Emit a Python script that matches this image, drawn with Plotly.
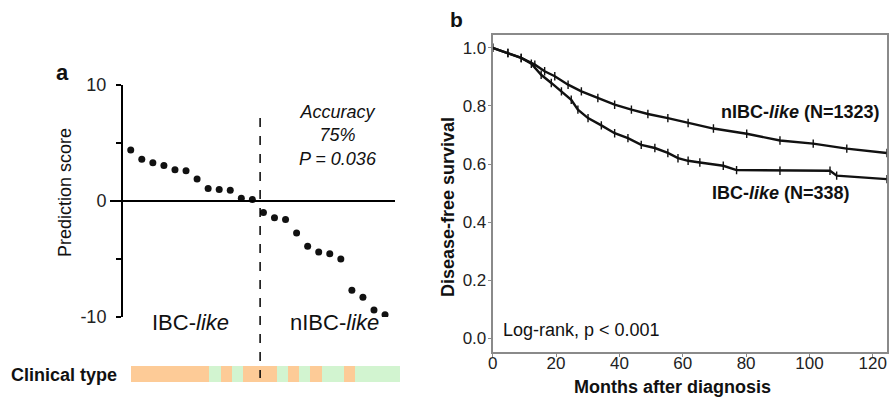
import plotly.graph_objects as go

W, H = 892, 398
def px(x): return x / W
def py(y): return 1 - y / H

# ---------------- Panel a data ----------------
sample_index = list(range(1, 25))
prediction_score = [4.4, 3.6, 3.3, 3.07, 2.7, 2.6, 1.9, 1.07, 1.0, 0.93, 0.23, 0.12,
                    -1.0, -1.45, -1.6, -2.75, -3.9, -4.4, -4.55, -5.0, -7.7, -8.3, -9.4, -9.8]
clinical_type = ["IBC", "IBC", "IBC", "IBC", "IBC", "IBC", "IBC", "nIBC", "IBC", "nIBC",
                 "IBC", "IBC", "IBC", "nIBC", "IBC", "nIBC", "IBC", "nIBC", "nIBC", "IBC",
                 "nIBC", "nIBC", "nIBC", "nIBC"]
score_ticks = [-10, -5, 0, 5, 10]
score_ticktext = ["-10", "", "0", "", "10"]
split_position = 12.7

# ---------------- Panel b data ----------------
nibc_months = [0, 4.8, 9.0, 13.3, 16.4, 19.6, 23.8, 28, 33.2, 38.5, 43.8, 49, 55.3,
               61.7, 69.7, 80.2, 90.7, 101.2, 111.8, 124.4]
nibc_surv = [1.0, 0.982, 0.965, 0.942, 0.919, 0.902, 0.873, 0.850, 0.827, 0.804, 0.787,
             0.772, 0.758, 0.741, 0.722, 0.704, 0.681, 0.670, 0.653, 0.638]
ibc_months = [0, 4.8, 9.0, 12.2, 15.3, 18.5, 21.7, 24.8, 26.9, 30.1, 34.3, 38.5, 42.7,
              46.9, 51.2, 55.3, 58.5, 61.7, 65.4, 72.8, 77, 90.7, 106.5, 108.6, 124.4]
ibc_surv = [1.0, 0.982, 0.965, 0.945, 0.907, 0.879, 0.850, 0.821, 0.787, 0.758, 0.733,
            0.706, 0.689, 0.666, 0.655, 0.638, 0.620, 0.611, 0.605, 0.594, 0.579, 0.577,
            0.577, 0.560, 0.548]
month_ticks = [0, 20, 40, 60, 80, 100, 120]
surv_ticks = [0.0, 0.2, 0.4, 0.6, 0.8, 1.0]

FONT = "Liberation Sans, Arial, sans-serif"
ORANGE = "#FDCB97"
GREEN = "#D2F4D0"
GRAY = "#8a8a8a"

fig = go.Figure()

# Panel a scatter
fig.add_trace(go.Scatter(x=sample_index, y=prediction_score, mode="markers",
                         marker=dict(color="#111111", size=7),
                         xaxis="x", yaxis="y", showlegend=False, hoverinfo="skip"))

# Clinical type bar
fig.add_trace(go.Heatmap(x=sample_index, y=[0],
                         z=[[0 if c == "IBC" else 1 for c in clinical_type]],
                         colorscale=[[0, ORANGE], [1, GREEN]], zmin=0, zmax=1,
                         showscale=False, xaxis="x3", yaxis="y3", hoverinfo="skip"))

# Panel b curves
for m, s in [(nibc_months, nibc_surv), (ibc_months, ibc_surv)]:
    fig.add_trace(go.Scatter(x=m, y=s, mode="lines+markers",
                             line=dict(color="#111111", width=2.4),
                             marker=dict(symbol="line-ns", size=6,
                                         line=dict(color="#111111", width=1.4)),
                             xaxis="x2", yaxis="y2", showlegend=False, hoverinfo="skip"))

shapes = [
    dict(type="line", xref="paper", yref="y", x0=px(110), x1=px(395), y0=0, y1=0,
         line=dict(color="black", width=2)),
    dict(type="line", xref="x", yref="paper", x0=split_position, x1=split_position,
         y0=py(118), y1=py(378), line=dict(color="black", width=1.5, dash="dash")),
]

def ann(text, x, y, size, bold=False, italic=False, xanchor="center", textangle=0):
    if bold:
        text = "<b>" + text + "</b>"
    if italic:
        text = "<i>" + text + "</i>"
    return dict(text=text, x=px(x), y=py(y), xref="paper", yref="paper", showarrow=False,
                font=dict(family=FONT, size=size, color="#111111"),
                xanchor=xanchor, yanchor="middle", textangle=textangle)

annotations = [
    ann("a", 63, 72, 22, bold=True),
    ann("b", 456, 19, 21, bold=True),
    ann("Prediction score", 65, 193, 18, textangle=-90),
    ann("Accuracy<br>75%<br>P = 0.036", 338, 135, 18, italic=True),
    ann("IBC-<i>like</i>", 190, 322, 22),
    ann("nIBC-<i>like</i>", 334, 322, 22),
    ann("Clinical type", 9, 375, 18, bold=True, xanchor="left"),
    ann("Disease-free survival", 448, 207, 18, bold=True, textangle=-90),
    ann("Months after diagnosis", 672, 387, 18, bold=True),
    ann("nIBC-<i>like</i> (N=1323)", 882, 112, 18, bold=True, xanchor="right"),
    ann("IBC-<i>like</i> (N=338)", 852, 193, 18, bold=True, xanchor="right"),
    ann("Log-rank, p &lt; 0.001", 501, 330, 18, xanchor="left"),
]

fig.update_layout(
    width=W, height=H, margin=dict(l=0, r=0, t=0, b=0, autoexpand=False),
    paper_bgcolor="white", plot_bgcolor="white",
    font=dict(family=FONT, color="#111111"),
    xaxis=dict(domain=[px(123), px(395)], range=[0.3, 24.9], visible=False),
    yaxis=dict(domain=[py(317), py(85)], range=[-10, 10], showline=True,
               linecolor="black", linewidth=2, ticks="outside", ticklen=5,
               tickwidth=2, tickcolor="black", tickvals=score_ticks,
               ticktext=score_ticktext, tickfont=dict(size=18, color="#222222"),
               showgrid=False, zeroline=False, ticklabelstandoff=6),
    xaxis3=dict(domain=[px(131), px(400)], range=[0.5, 24.5], visible=False, anchor="y3"),
    yaxis3=dict(domain=[py(382), py(366)], range=[-0.5, 0.5], visible=False, anchor="x3"),
    xaxis2=dict(domain=[px(492.7), px(886.7)], range=[0, 124.4], anchor="y2",
                showline=True, mirror=True, linecolor=GRAY, linewidth=2,
                ticks="outside", ticklen=3, tickcolor=GRAY, tickvals=month_ticks,
                tickfont=dict(size=17, color="#222222"), showgrid=False, zeroline=False,
                ticklabelstandoff=-8),
    yaxis2=dict(domain=[py(351.7), py(35)], range=[-0.046, 1.044], anchor="x2",
                showline=True, mirror=True, linecolor=GRAY, linewidth=2,
                ticks="outside", ticklen=3, tickcolor=GRAY, tickvals=surv_ticks,
                tickformat=".1f", tickfont=dict(size=17, color="#222222"),
                showgrid=False, zeroline=False, ticklabelstandoff=-2),
    shapes=shapes, annotations=annotations,
)

fig.write_html("out.html", config={"displayModeBar": False},
               post_script="document.body.style.margin='0';document.body.style.overflow='hidden';")
